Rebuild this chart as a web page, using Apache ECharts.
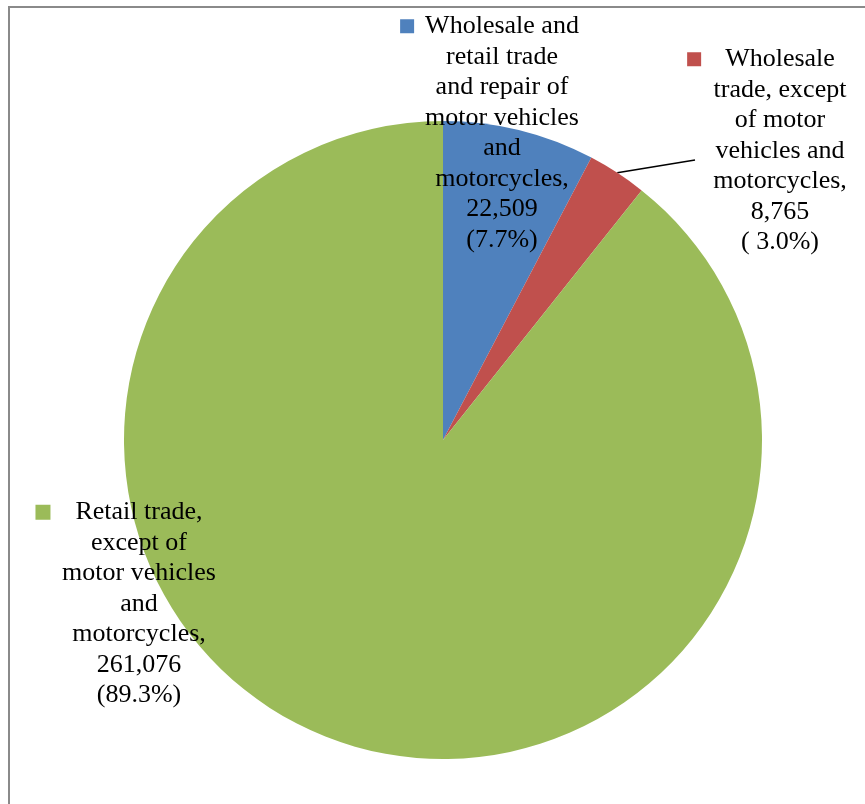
<!DOCTYPE html>
<html>
<head>
<meta charset="utf-8">
<script src="https://cdn.jsdelivr.net/npm/echarts@6/dist/echarts.min.js"></script>
<style>html,body{margin:0;padding:0;background:#fff;}#c{width:865px;height:804px;}</style>
</head>
<body>
<div id="c"></div>
<script>
// Data
const categories = [
  "Wholesale and retail trade and repair of motor vehicles and motorcycles",
  "Wholesale trade, except of motor vehicles and motorcycles",
  "Retail trade, except of motor vehicles and motorcycles"
];
const values = [22509, 8765, 261076];
const percentLabels = ["(7.7%)", "( 3.0%)", "(89.3%)"];
const labelLines = [
  ["Wholesale and", "retail trade", "and repair of", "motor vehicles", "and", "motorcycles,"],
  ["Wholesale", "trade, except", "of motor", "vehicles and", "motorcycles,"],
  ["Retail trade,", "except of", "motor vehicles", "and", "motorcycles,"]
];
const colors = ["#4F81BD", "#C0504D", "#9BBB59"];

// Layout (not data)
const labelPos = [
  { x: 502, y: 11 },
  { x: 780, y: 44 },
  { x: 139, y: 497 }
];
const leaderEnd = [null, [695, 160], null];
const keyGap = [11, 24, 25];
const keySize = [14, 14, 15];

const rich = {};
colors.forEach((c, i) => {
  rich['sq' + i] = { width: keySize[i], height: keySize[i], backgroundColor: c, lineHeight: 30.5, verticalAlign: 'middle' };
  rich['g' + i] = { width: keyGap[i], lineHeight: 30.5 };
  rich['sp' + i] = { width: keySize[i] + keyGap[i], lineHeight: 30.5 };
});

const chart = echarts.init(document.getElementById('c'));
chart.setOption({
  backgroundColor: '#fff',
  animation: false,
  color: colors,
  graphic: [{
    type: 'polyline',
    shape: { points: [[9, 804], [9, 7], [865, 7]] },
    style: { stroke: '#8a8a8a', lineWidth: 2, fill: null },
    silent: true
  }],
  series: [{
    type: 'pie',
    center: [443, 440],
    radius: 319,
    startAngle: 90,
    clockwise: true,
    avoidLabelOverlap: false,
    data: categories.map((n, i) => ({
      name: n,
      value: values[i],
      labelLine: { show: i === 1 }
    })),
    label: {
      show: true,
      position: 'outside',
      fontFamily: 'Liberation Serif',
      fontSize: 26,
      lineHeight: 30.5,
      color: '#000',
      align: 'center',
      formatter: function (p) {
        const i = p.dataIndex;
        const lines = labelLines[i].slice();
        lines[0] = '{sq' + i + '|}{g' + i + '|}' + lines[0] + '{sp' + i + '|}';
        lines.push(values[i].toLocaleString('en-US'));
        lines.push(percentLabels[i]);
        return lines.join('\n');
      },
      rich: rich
    },
    labelLine: {
      lineStyle: { color: '#000', width: 1.5 }
    },
    labelLayout: function (params) {
      const i = params.dataIndex;
      const pos = labelPos[i];
      const out = { x: pos.x, y: pos.y, align: 'center', verticalAlign: 'top' };
      if (leaderEnd[i] && params.labelLinePoints) {
        const s = params.labelLinePoints[0];
        out.labelLinePoints = [s, leaderEnd[i], leaderEnd[i]];
      }
      return out;
    }
  }]
});
</script>
</body>
</html>
